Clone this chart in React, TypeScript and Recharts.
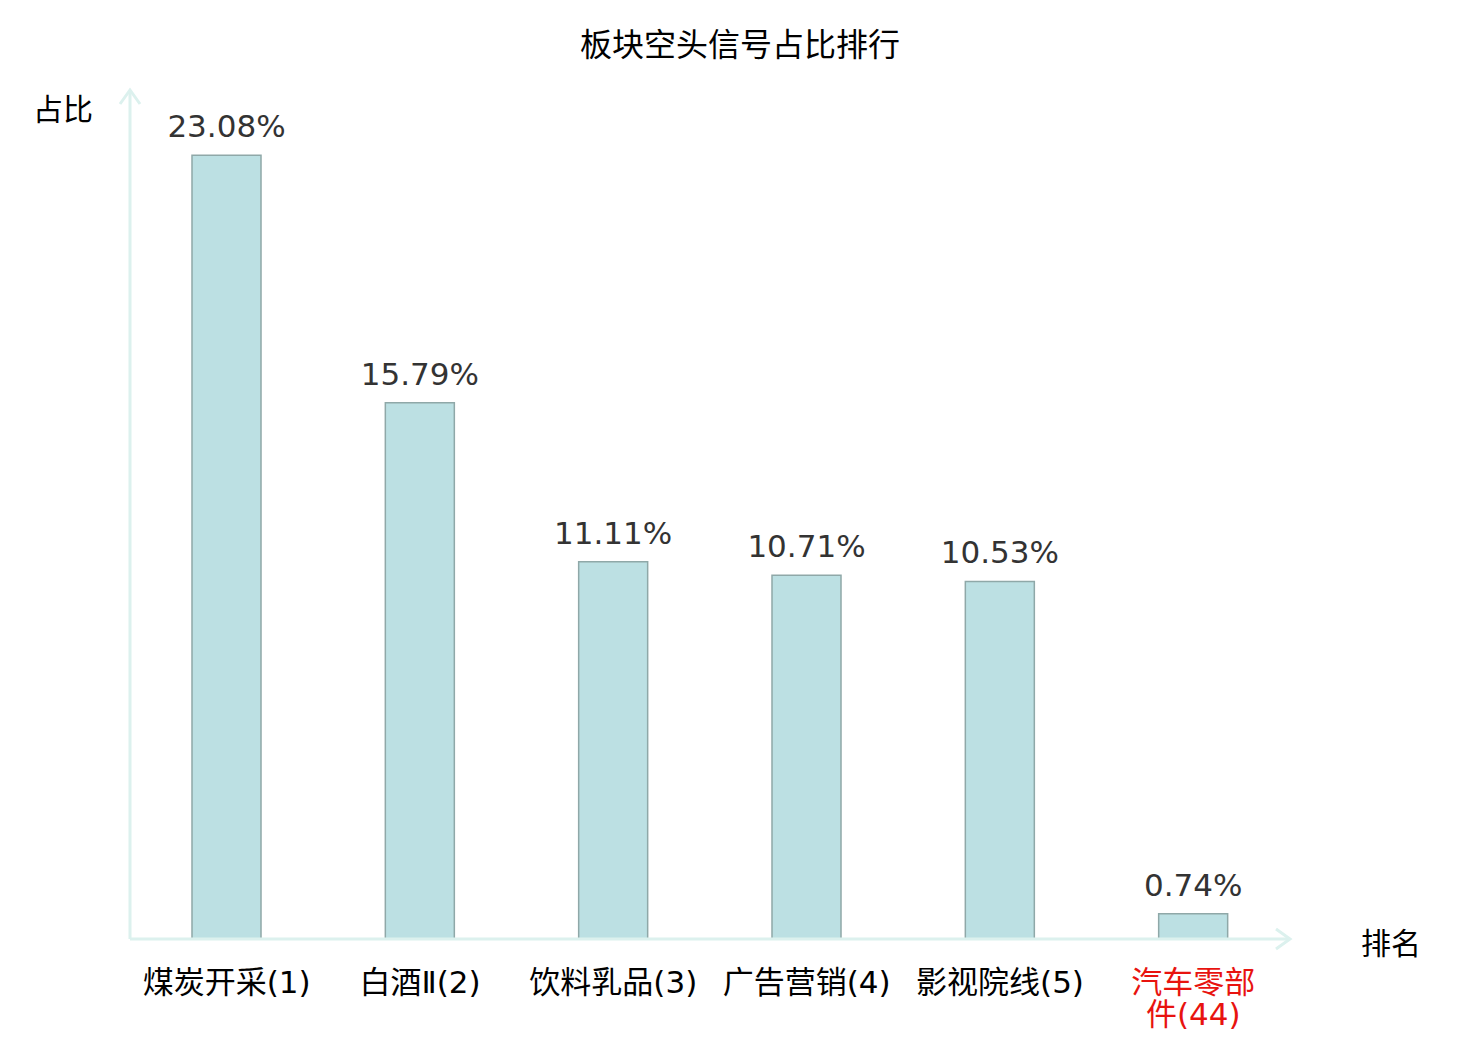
import React from "react";
import { BarChart, Bar, XAxis, YAxis, LabelList } from "recharts";

const categories = ["煤炭开采(1)", "白酒Ⅱ(2)", "饮料乳品(3)", "广告营销(4)", "影视院线(5)", "汽车零部件(44)"];
const shares = [23.08, 15.79, 11.11, 10.71, 10.53, 0.74];
const highlighted = ["汽车零部件(44)"];
const yDomain = [0, 25];

const data = categories.map((name, i) => ({ name, value: shares[i] }));

const CJK = '"Noto Sans CJK SC", "Noto Sans", sans-serif';
const MIXED = '"DejaVu Sans", "Noto Sans CJK SC", sans-serif';
const AXIS = "#dcf1ee";
const FS = 31;

// a label wider than its band keeps four characters on the first line, the rest below
function wrapLabel(text: string, maxW: number): string[] {
  const chars = Array.from(text);
  let w = 0;
  for (const ch of chars) w += /[\u3000-\u9fff]/.test(ch) ? FS : FS * 0.6;
  if (w <= maxW) return [text];
  return [chars.slice(0, 4).join(""), chars.slice(4).join("")];
}

function CategoryTick(props: any) {
  const { x, y, payload } = props;
  const label = String(payload.value);
  const lines = wrapLabel(label, 190);
  const color = highlighted.includes(label) ? "#e8130f" : "#000";
  return (
    <text x={x} y={y} textAnchor="middle" fontFamily={MIXED} fontSize={FS} fill={color}>
      {lines.map((l, i) => (
        <tspan key={i} x={x} dy={i === 0 ? 46 : 32}>
          {l}
        </tspan>
      ))}
    </text>
  );
}

function ValueLabel(props: any) {
  const { x, y, width, value } = props;
  return (
    <text
      x={x + width / 2}
      y={y - 18}
      textAnchor="middle"
      fontFamily='"DejaVu Sans", sans-serif'
      fontSize={31}
      fill="#333"
    >
      {`${Number(value).toFixed(2)}%`}
    </text>
  );
}

function YArrow(props: any) {
  const vb = props.viewBox || {};
  const ax = vb.x + vb.width;
  const top = vb.y;
  return (
    <g>
      <polyline
        points={`${ax - 10},${top + 14} ${ax},${top} ${ax + 10},${top + 14}`}
        fill="none"
        stroke={AXIS}
        strokeWidth={3}
      />
      <text x={63} y={top + 30} textAnchor="middle" fontFamily={CJK} fontSize={30} fill="#000">
        占比
      </text>
    </g>
  );
}

function XArrow(props: any) {
  const vb = props.viewBox || {};
  const end = vb.x + vb.width;
  const ay = vb.y;
  return (
    <g>
      <polyline
        points={`${end - 14},${ay - 10} ${end},${ay} ${end - 14},${ay + 10}`}
        fill="none"
        stroke={AXIS}
        strokeWidth={3}
      />
      <text x={end + 101} y={ay + 15} textAnchor="middle" fontFamily={CJK} fontSize={30} fill="#000">
        排名
      </text>
    </g>
  );
}

export default function App() {
  return (
    <div style={{ position: "absolute", left: 0, top: 0, width: 1480, height: 1040, background: "#fff" }}>
      <div
        style={{
          position: "absolute",
          top: 22,
          left: 0,
          width: 1480,
          textAlign: "center",
          fontFamily: CJK,
          fontSize: 32,
          color: "#000",
          lineHeight: "40px",
        }}
      >
        板块空头信号占比排行
      </div>
      <BarChart
        width={1480}
        height={1040}
        data={data}
        margin={{ top: 90, right: 190, bottom: 0, left: 70 }}
        barCategoryGap={62}
      >
        <XAxis
          dataKey="name"
          interval={0}
          tickLine={false}
          axisLine={{ stroke: AXIS, strokeWidth: 3 }}
          tick={<CategoryTick />}
          height={101}
          label={<XArrow />}
        />
        <YAxis
          width={60}
          domain={yDomain}
          tick={false}
          tickLine={false}
          axisLine={{ stroke: AXIS, strokeWidth: 3 }}
          label={<YArrow />}
        />
        <Bar dataKey="value" fill="#bce0e3" stroke="#8fa8a8" strokeWidth={1.5} isAnimationActive={false}>
          <LabelList dataKey="value" content={<ValueLabel />} />
        </Bar>
      </BarChart>
    </div>
  );
}
